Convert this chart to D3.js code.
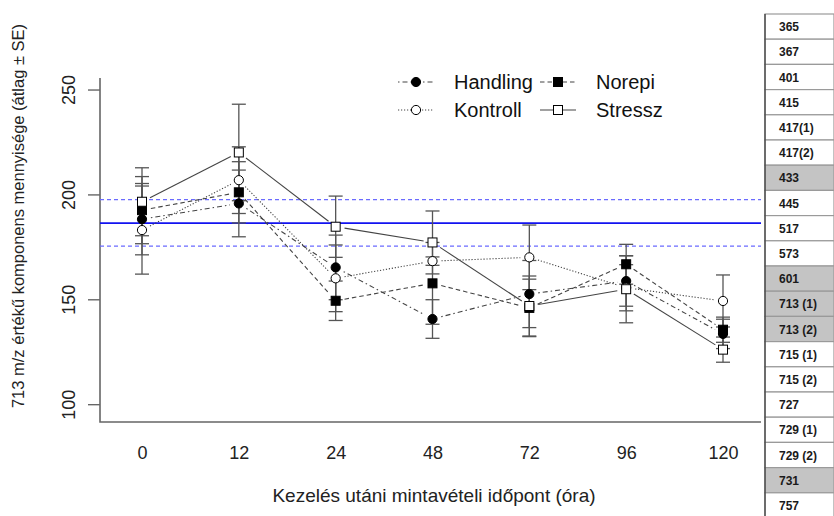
<!DOCTYPE html>
<html>
<head>
<meta charset="utf-8">
<script src="https://cdn.jsdelivr.net/npm/d3@7"></script>
<style>
  body { margin: 0; background: #fff; }
  svg { display: block; font-family: "Liberation Sans", Arial, sans-serif; }
</style>
</head>
<body>
<svg id="chart"></svg>
<script>
// sampling times (hours)
const times = ["0", "12", "24", "48", "72", "96", "120"];
const yTicks = [100, 150, 200, 250];

// group means
const handlingMean = [188.2, 195.7, 165.2, 140.6, 152.5, 158.7, 133.5];
const kontrollMean = [183.0, 206.8, 160.0, 168.2, 170.0, 155.5, 149.2];
const norepiMean   = [192.5, 201.0, 149.3, 157.6, 145.9, 166.7, 135.5];
const stresszMean  = [196.5, 220.0, 184.6, 177.1, 146.8, 154.8, 126.0];

// standard errors
const handlingSE = [17.0, 15.9, 15.4, 9.2, 16.0, 12.0, 7.0];
const kontrollSE = [21.0, 15.9, 15.9, 2.0, 15.4, 11.0, 12.4];
const norepiSE   = [16.0, 14.6, 9.4, 19.5, 13.7, 9.5, 6.0];
const stresszSE  = [16.2, 23.0, 14.6, 15.0, 14.3, 16.0, 6.0];

// reference band (overall mean and its limits)
const refMean = 186.3;
const refLow = 175.3;
const refHigh = 197.5;

const tableRows = ["365", "367", "401", "415", "417(1)", "417(2)", "433", "445", "517", "573",
    "601", "713 (1)", "713 (2)", "715 (1)", "715 (2)", "727", "729 (1)", "729 (2)", "731", "757"];
const tableShaded = ["433", "601", "713 (1)", "713 (2)", "731"];

const series = [
    {name: 'Handling', mean: handlingMean, se: handlingSE, shape: 'circle', fill: '#000', dash: '1.5 3 5 3'},
    {name: 'Kontroll', mean: kontrollMean, se: kontrollSE, shape: 'circle', fill: '#fff', dash: '1.2 1.8'},
    {name: 'Norepi', mean: norepiMean, se: norepiSE, shape: 'square', fill: '#000', dash: '4.5 3'},
    {name: 'Stressz', mean: stresszMean, se: stresszSE, shape: 'square', fill: '#fff', dash: null}
];

const W = 834, H = 516;
const plot = {left: 100, right: 761, top: 78, bottom: 422};

const svg = d3.select('#chart').attr('width', W).attr('height', H);

const xScale = d3.scalePoint()
    .domain(times)
    .range([142, 723]);

const yScale = d3.scaleLinear()
    .domain([91.5, 255.5])
    .range([plot.bottom, plot.top]);

// L-shaped box
svg.append('path')
    .attr('d', `M${plot.left},${plot.top}V${plot.bottom}H${plot.right}`)
    .attr('fill', 'none')
    .attr('stroke', '#666')
    .attr('stroke-width', 1.6);

// y axis
const yAxis = svg.append('g')
    .attr('transform', `translate(${plot.left},0)`)
    .call(d3.axisLeft(yScale).tickValues(yTicks).tickSize(12).tickFormat(d3.format('d')));
yAxis.select('.domain').remove();
yAxis.selectAll('line').attr('stroke', '#666').attr('stroke-width', 1.4);
yAxis.selectAll('text')
    .attr('transform', 'rotate(-90)')
    .attr('x', 0)
    .attr('y', -25.5)
    .attr('dy', null)
    .attr('text-anchor', 'middle')
    .attr('fill', '#222')
    .style('font-size', '18px')
    .style('font-family', '"Liberation Sans", Arial, sans-serif');

// x axis labels (no ticks)
const xAxis = svg.append('g')
    .attr('transform', `translate(0,${plot.bottom})`)
    .call(d3.axisBottom(xScale).tickSize(0));
xAxis.select('.domain').remove();
xAxis.selectAll('text')
    .attr('y', 36.5)
    .attr('dy', null)
    .attr('fill', '#222')
    .style('font-size', '18px')
    .style('font-family', '"Liberation Sans", Arial, sans-serif');

// axis titles
svg.append('text')
    .attr('x', 434)
    .attr('y', 502)
    .attr('text-anchor', 'middle')
    .attr('fill', '#222')
    .style('font-size', '19px')
    .text('Kezelés utáni mintavételi időpont (óra)');

svg.append('text')
    .attr('transform', 'translate(24,216) rotate(-90)')
    .attr('text-anchor', 'middle')
    .attr('fill', '#222')
    .style('font-size', '16.5px')
    .text('713 m/z értékű komponens mennyisége (átlag ± SE)');

// reference lines
svg.append('line')
    .attr('x1', plot.left).attr('x2', plot.right)
    .attr('y1', yScale(refMean)).attr('y2', yScale(refMean))
    .attr('stroke', '#1212f0').attr('stroke-width', 1.8);
[refLow, refHigh].forEach(v => {
    svg.append('line')
        .attr('x1', plot.left).attr('x2', plot.right)
        .attr('y1', yScale(v)).attr('y2', yScale(v))
        .attr('stroke', '#6b6bff').attr('stroke-width', 1.3)
        .attr('stroke-dasharray', '4 3');
});

// error bars
const capW = 7;
series.forEach(s => {
    const g = svg.append('g').attr('stroke', '#555').attr('stroke-width', 1.3);
    times.forEach((t, i) => {
        const x = xScale(t);
        const y1 = yScale(s.mean[i] + s.se[i]);
        const y2 = yScale(s.mean[i] - s.se[i]);
        g.append('line').attr('x1', x).attr('x2', x).attr('y1', y1).attr('y2', y2);
        g.append('line').attr('x1', x - capW).attr('x2', x + capW).attr('y1', y1).attr('y2', y1);
        g.append('line').attr('x1', x - capW).attr('x2', x + capW).attr('y1', y2).attr('y2', y2);
    });
});

// connecting lines with gaps around the points
const gap = 9;
series.forEach(s => {
    const pts = times.map((t, i) => [xScale(t), yScale(s.mean[i])]);
    for (let i = 0; i < pts.length - 1; i++) {
        const [xa, ya] = pts[i], [xb, yb] = pts[i + 1];
        const len = Math.hypot(xb - xa, yb - ya);
        if (len <= 2 * gap) continue;
        const ux = (xb - xa) / len, uy = (yb - ya) / len;
        svg.append('line')
            .attr('x1', xa + ux * gap).attr('y1', ya + uy * gap)
            .attr('x2', xb - ux * gap).attr('y2', yb - uy * gap)
            .attr('stroke', '#444')
            .attr('stroke-width', 1.1)
            .attr('stroke-dasharray', s.dash);
    }
});

function drawMarker(g, s, x, y) {
    if (s.shape === 'circle') {
        g.append('circle').attr('cx', x).attr('cy', y).attr('r', 4.6)
            .attr('fill', s.fill).attr('stroke', '#000').attr('stroke-width', 1);
    } else {
        g.append('rect').attr('x', x - 4.5).attr('y', y - 4.5).attr('width', 9).attr('height', 9)
            .attr('fill', s.fill).attr('stroke', '#000').attr('stroke-width', 1);
    }
}

// markers
series.forEach(s => {
    const g = svg.append('g');
    times.forEach((t, i) => drawMarker(g, s, xScale(t), yScale(s.mean[i])));
});

// legend (two columns)
const legendPos = [
    {x: 398, y: 82}, {x: 398, y: 110}, {x: 540, y: 82}, {x: 540, y: 110}
];
series.forEach((s, i) => {
    const p = legendPos[i];
    const g = svg.append('g');
    g.append('line')
        .attr('x1', p.x).attr('x2', p.x + 36)
        .attr('y1', p.y).attr('y2', p.y)
        .attr('stroke', '#444').attr('stroke-width', 1.1)
        .attr('stroke-dasharray', s.dash);
    drawMarker(g, s, p.x + 18, p.y);
    g.append('text')
        .attr('x', p.x + 56)
        .attr('y', p.y + 7)
        .attr('fill', '#111')
        .style('font-size', '20px')
        .text(s.name);
});

// side table of components
const rowH = 25.2, tableTop = 14, tableX = 765;
const table = svg.append('g');
tableRows.forEach((r, i) => {
    const y = tableTop + i * rowH;
    table.append('rect')
        .attr('x', tableX).attr('y', y)
        .attr('width', W - tableX).attr('height', rowH)
        .attr('fill', tableShaded.includes(r) ? '#c4c4c4' : '#fff')
        .attr('stroke', '#9a9a9a').attr('stroke-width', 1.2);
    table.append('text')
        .attr('x', tableX + 14)
        .attr('y', y + rowH / 2 + 4.5)
        .attr('fill', '#1a1a1a')
        .style('font-size', '12px')
        .style('font-weight', 'bold')
        .text(r);
});
table.append('line')
    .attr('x1', tableX).attr('x2', tableX)
    .attr('y1', tableTop).attr('y2', H)
    .attr('stroke', '#333').attr('stroke-width', 1.2);
</script>
</body>
</html>
